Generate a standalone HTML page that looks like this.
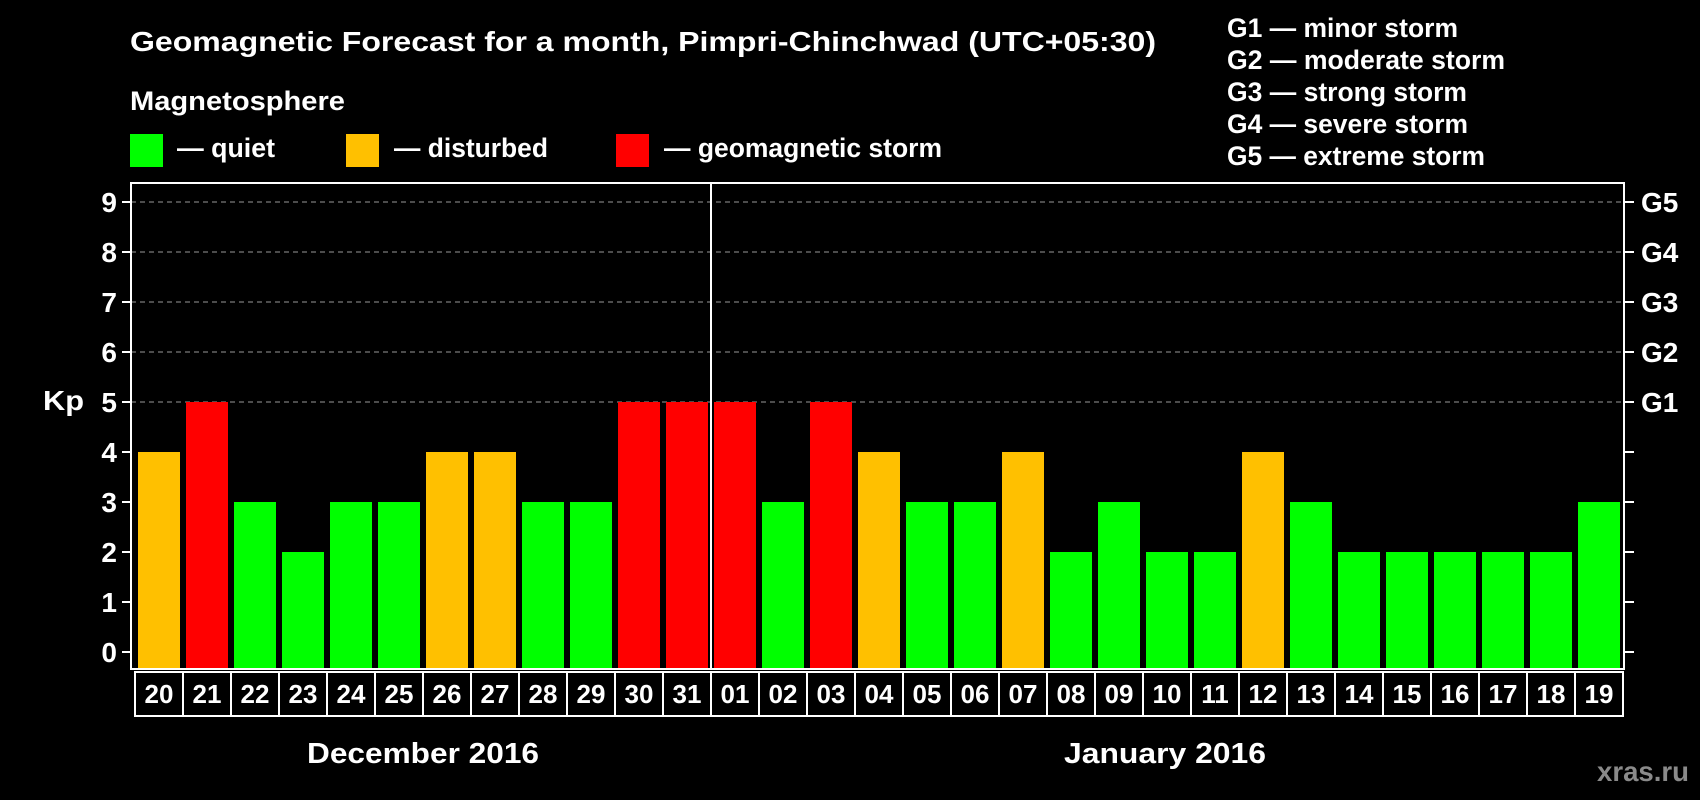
<!DOCTYPE html>
<html><head><meta charset="utf-8"><style>
html,body{margin:0;padding:0;background:#000;}
svg{display:block;font-family:"Liberation Sans",Arial,sans-serif;font-weight:bold;}
</style></head><body>
<svg id="chart" width="1700" height="800" viewBox="0 0 1700 800">
<rect x="0" y="0" width="1700" height="800" fill="#000"/>
<text x="130" y="51" fill="#fff" font-size="28" textLength="1026" lengthAdjust="spacingAndGlyphs">Geomagnetic Forecast for a month, Pimpri-Chinchwad (UTC+05:30)</text>
<text x="130" y="110" fill="#fff" font-size="27" textLength="215" lengthAdjust="spacingAndGlyphs">Magnetosphere</text>
<g>
<rect x="130" y="134" width="33" height="33" fill="#00ff00"/>
<text x="177" y="157" fill="#fff" font-size="27" textLength="98" lengthAdjust="spacingAndGlyphs">— quiet</text>
<rect x="346" y="134" width="33" height="33" fill="#ffc000"/>
<text x="394" y="157" fill="#fff" font-size="27" textLength="154" lengthAdjust="spacingAndGlyphs">— disturbed</text>
<rect x="616" y="134" width="33" height="33" fill="#ff0000"/>
<text x="664" y="157" fill="#fff" font-size="27" textLength="278" lengthAdjust="spacingAndGlyphs">— geomagnetic storm</text>
</g>
<g fill="#fff" font-size="27">
<text x="1227" y="37" textLength="231" lengthAdjust="spacingAndGlyphs">G1 — minor storm</text>
<text x="1227" y="69" textLength="278" lengthAdjust="spacingAndGlyphs">G2 — moderate storm</text>
<text x="1227" y="101" textLength="240" lengthAdjust="spacingAndGlyphs">G3 — strong storm</text>
<text x="1227" y="133" textLength="241" lengthAdjust="spacingAndGlyphs">G4 — severe storm</text>
<text x="1227" y="165" textLength="258" lengthAdjust="spacingAndGlyphs">G5 — extreme storm</text>
</g>
<text x="43" y="410" fill="#fff" font-size="28" textLength="41" lengthAdjust="spacingAndGlyphs">Kp</text>
<text x="307" y="763" fill="#fff" font-size="29" textLength="232" lengthAdjust="spacingAndGlyphs">December 2016</text>
<text x="1064" y="763" fill="#fff" font-size="29" textLength="202" lengthAdjust="spacingAndGlyphs">January 2016</text>
<text x="1597" y="781" fill="#8a8a8a" font-size="28" textLength="92" lengthAdjust="spacingAndGlyphs">xras.ru</text>
<g id="plot"></g>
</svg>
<script>
const days = ["20","21","22","23","24","25","26","27","28","29","30","31","01","02","03","04","05","06","07","08","09","10","11","12","13","14","15","16","17","18","19"];
const kp = [4,5,3,2,3,3,4,4,3,3,5,5,5,3,5,4,3,3,4,2,3,2,2,4,3,2,2,2,2,2,3];
const yTicks = [0,1,2,3,4,5,6,7,8,9];
const gLabels = ["G1","G2","G3","G4","G5"];
const gLevels = [5,6,7,8,9];

const NS="http://www.w3.org/2000/svg";
const plot=document.getElementById('plot');
const L=131,R=1624,T=183,B=669,colX0=135,pitch=48;
const y=v=>652-v*50;
const xc=i=>colX0+i*pitch;
function mk(tag,attrs){const e=document.createElementNS(NS,tag);for(const k in attrs)e.setAttribute(k,attrs[k]);plot.appendChild(e);return e;}
function color(v){return v>=5?'#ff0000':(v>=4?'#ffc000':'#00ff00');}
gLevels.forEach((v,i)=>{
  const g=mk('line',{x1:L,x2:R,y1:y(v),y2:y(v),stroke:'#999','stroke-width':1,'stroke-dasharray':'5,4'});
  
  
  const t=mk('text',{x:1641,y:y(v)+10,fill:'#fff','font-size':28});
  t.textContent=gLabels[i];
  
  
});
kp.forEach((v,i)=>{
  const r=mk('rect',{x:xc(i)+3,y:y(v),width:pitch-6,height:B-y(v),fill:color(v)});
  
  
});
const f=mk('rect',{x:L,y:T,width:R-L,height:B-T,fill:'none',stroke:'#fff','stroke-width':2});


const sep=mk('line',{x1:xc(12),x2:xc(12),y1:T,y2:B,stroke:'#fff','stroke-width':2});


yTicks.forEach(v=>{
  const a=mk('line',{x1:L-9,x2:L,y1:y(v),y2:y(v),stroke:'#fff','stroke-width':2});
  
  
  const b=mk('line',{x1:R,x2:R+10,y1:y(v),y2:y(v),stroke:'#fff','stroke-width':2});
  
  
  const t=mk('text',{x:117,y:y(v)+10,fill:'#fff','font-size':28,'text-anchor':'end'});
  t.textContent=v;
  
  
});
days.forEach((d,i)=>{
  const r=mk('rect',{x:xc(i),y:672,width:pitch,height:44,fill:'none',stroke:'#fff','stroke-width':2});
  
  
  const t=mk('text',{x:xc(i)+pitch/2,y:703,fill:'#fff','font-size':26,'text-anchor':'middle'});
  t.textContent=d;
  
  
});
</script>
</body></html>
